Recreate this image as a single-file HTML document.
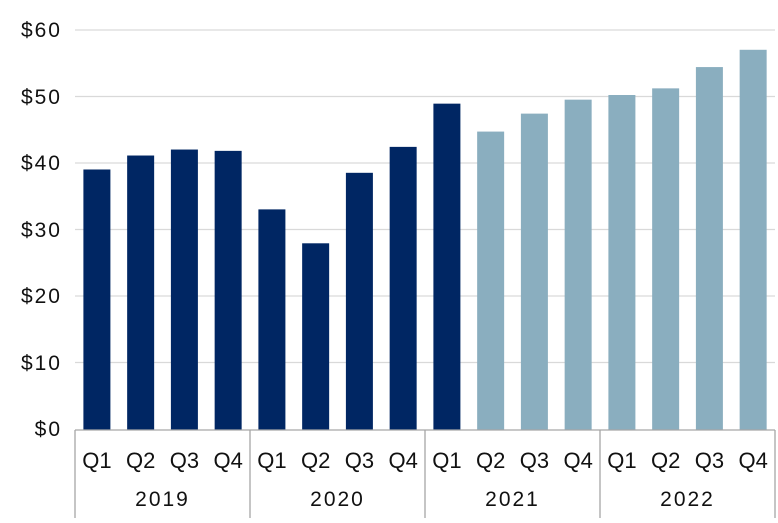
<!DOCTYPE html>
<html><head><style>body{margin:0;background:#fff}</style></head><body>
<svg width="778" height="518" xmlns="http://www.w3.org/2000/svg" font-family="Liberation Sans, sans-serif">
<g stroke="#d9d9d9" stroke-width="1.3">
<line x1="75" x2="775" y1="30" y2="30"/><line x1="75" x2="775" y1="96.5" y2="96.5"/>
<line x1="75" x2="775" y1="163" y2="163"/><line x1="75" x2="775" y1="229.5" y2="229.5"/>
<line x1="75" x2="775" y1="296" y2="296"/><line x1="75" x2="775" y1="362.5" y2="362.5"/>
</g>
<g font-size="21" fill="#111" text-anchor="end" letter-spacing="2">
<text x="62" y="37">$60</text><text x="62" y="104">$50</text><text x="62" y="170">$40</text>
<text x="62" y="237">$30</text><text x="62" y="303">$20</text><text x="62" y="370">$10</text><text x="62" y="436">$0</text>
</g>
<g id="bars"></g>
<g stroke="#a6a6a6" stroke-width="1.3">
<line x1="75" x2="775" y1="430" y2="430"/>
<line x1="75" x2="75" y1="430" y2="518"/><line x1="250" x2="250" y1="430" y2="518"/>
<line x1="425" x2="425" y1="430" y2="518"/><line x1="600" x2="600" y1="430" y2="518"/>
<line x1="775" x2="775" y1="430" y2="518"/>
</g>
<g font-size="21" fill="#111" text-anchor="middle" id="lbl">
<text x="162.5" y="506" letter-spacing="2">2019</text><text x="337.5" y="506" letter-spacing="2">2020</text>
<text x="512.5" y="506" letter-spacing="2">2021</text><text x="687.5" y="506" letter-spacing="2">2022</text>
</g>
<script>
var v=[39.1,41.2,42.1,41.9,33.1,28,38.6,42.5,49,44.8,47.5,49.6,50.3,51.3,54.5,57.1];
var ns="http://www.w3.org/2000/svg",b=document.getElementById("bars"),l=document.getElementById("lbl");
v.forEach(function(d,i){var cx=75+43.75*i+21.9;var r=document.createElementNS(ns,"rect");
var h=d*6.65;r.setAttribute("x",cx-13.5);r.setAttribute("width",27);r.setAttribute("y",429.5-h);r.setAttribute("height",h);
r.setAttribute("fill",i<9?"#002663":"#8aaebf");b.appendChild(r);
var t=document.createElementNS(ns,"text");t.setAttribute("x",cx);t.setAttribute("y",468);t.setAttribute("font-size","22");t.textContent="Q"+(i%4+1);l.appendChild(t);});
</script>
</svg>
</body></html>
